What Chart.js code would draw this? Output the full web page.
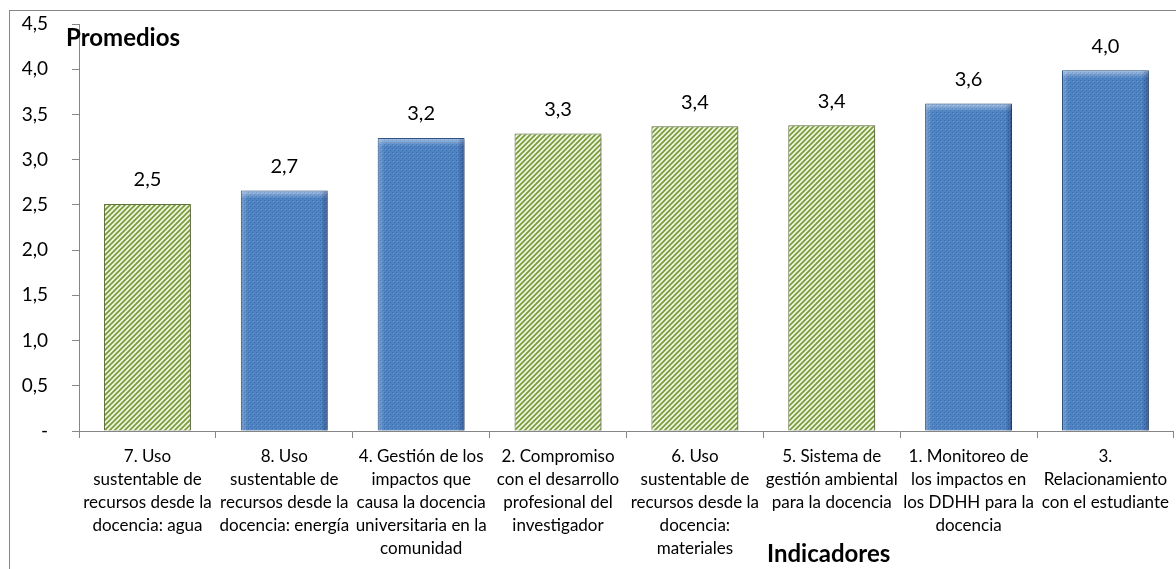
<!DOCTYPE html>
<html>
<head>
<meta charset="utf-8">
<script src="https://cdn.jsdelivr.net/npm/chart.js@4"></script>
<style>
  html, body { margin: 0; padding: 0; background: #fff; }
  #wrap { width: 1176px; height: 569px; position: relative; }
</style>
</head>
<body>
<div id="wrap"><canvas id="chart"></canvas></div>
<script>
// -------------------------------------------------------------------
// Data
// -------------------------------------------------------------------
const categories = [
  ["7. Uso", "sustentable de", "recursos desde la", "docencia: agua"],
  ["8. Uso", "sustentable de", "recursos desde la", "docencia: energía"],
  ["4. Gestión de los", "impactos que", "causa la docencia", "universitaria en la", "comunidad"],
  ["2. Compromiso", "con el desarrollo", "profesional del", "investigador"],
  ["6. Uso", "sustentable de", "recursos desde la", "docencia:", "materiales"],
  ["5. Sistema de", "gestión ambiental", "para la docencia"],
  ["1. Monitoreo de", "los impactos en", "los DDHH para la", "docencia"],
  ["3.", "Relacionamiento", "con el estudiante"]
];
const promedios = [2.51, 2.66, 3.24, 3.29, 3.37, 3.38, 3.62, 3.99];
const barStyle  = ["green", "blue", "blue", "green", "green", "green", "blue", "blue"];
const yTicks    = [0, 0.5, 1, 1.5, 2, 2.5, 3, 3.5, 4, 4.5];

const FONT = "Lato, 'Open Sans', sans-serif";

function fmtNum(v) {
  return v === 0 ? "-" : v.toFixed(1).replace(".", ",");
}

// -------------------------------------------------------------------
// Fill patterns
// -------------------------------------------------------------------
function hatchPattern() {
  const c = document.createElement("canvas");
  c.width = 5; c.height = 5;
  const g = c.getContext("2d");
  g.fillStyle = "#eef5dc";
  g.fillRect(0, 0, 5, 5);
  g.strokeStyle = "#7a9a3e";
  g.lineWidth = 1.7;
  g.beginPath();
  g.moveTo(-1, 6); g.lineTo(6, -1);
  g.moveTo(-4, 4); g.lineTo(4, -4);
  g.moveTo(1, 9); g.lineTo(9, 1);
  g.stroke();
  return g.createPattern(c, "repeat");
}

function dotPattern() {
  const c = document.createElement("canvas");
  c.width = 4; c.height = 4;
  const g = c.getContext("2d");
  g.fillStyle = "#4f84c4";
  g.fillRect(0, 0, 4, 4);
  g.fillStyle = "#3a69a6";
  g.fillRect(0, 0, 1, 1);
  g.fillRect(2, 2, 1, 1);
  g.fillStyle = "#6c9ad2";
  g.fillRect(1, 1, 1, 1);
  return g.createPattern(c, "repeat");
}

const fills   = { green: hatchPattern(), blue: dotPattern() };
const borders = { green: "#66763e", blue: "#2c5486" };

// -------------------------------------------------------------------
// Plugins
// -------------------------------------------------------------------
const decor = {
  id: "decor",
  beforeDatasetsDraw(chart) {
    const ctx = chart.ctx;
    ctx.save();
    ctx.shadowColor = "rgba(0,0,0,0.35)";
    ctx.shadowBlur = 4;
    ctx.shadowOffsetX = 2;
    ctx.shadowOffsetY = 2;
  },
  afterDatasetsDraw(chart) {
    const ctx = chart.ctx;
    ctx.restore();

    // bevel on blue bars
    const meta = chart.getDatasetMeta(0);
    meta.data.forEach((bar, i) => {
      if (barStyle[i] !== "blue") return;
      const l = bar.x - bar.width / 2, r = bar.x + bar.width / 2;
      const t = bar.y, b = bar.base;
      ctx.save();
      let gr = ctx.createLinearGradient(0, t, 0, t + 8);
      gr.addColorStop(0, "rgba(255,255,255,0.5)");
      gr.addColorStop(1, "rgba(255,255,255,0)");
      ctx.fillStyle = gr;
      ctx.fillRect(l + 1, t + 1, r - l - 2, 8);
      gr = ctx.createLinearGradient(l, 0, l + 7, 0);
      gr.addColorStop(0, "rgba(255,255,255,0.25)");
      gr.addColorStop(1, "rgba(255,255,255,0)");
      ctx.fillStyle = gr;
      ctx.fillRect(l + 1, t + 1, 7, b - t - 1);
      gr = ctx.createLinearGradient(r - 7, 0, r, 0);
      gr.addColorStop(0, "rgba(0,0,40,0)");
      gr.addColorStop(1, "rgba(0,0,40,0.3)");
      ctx.fillStyle = gr;
      ctx.fillRect(r - 8, t + 1, 7, b - t - 1);
      ctx.restore();
    });

    // value labels
    ctx.save();
    ctx.font = "20px " + FONT;
    ctx.fillStyle = "#000";
    ctx.textAlign = "center";
    ctx.textBaseline = "middle";
    meta.data.forEach((bar, i) => {
      ctx.fillText(promedios[i].toFixed(1).replace(".", ","), bar.x, bar.y - 24);
    });
    ctx.restore();
  },
  afterDraw(chart) {
    const ctx = chart.ctx;
    ctx.save();
    ctx.strokeStyle = "#868686";
    ctx.lineWidth = 1;
    ctx.strokeRect(9.5, 10.5, 1300, 700);
    ctx.fillStyle = "#000";
    ctx.font = "bold 24px " + FONT;
    ctx.textBaseline = "middle";
    ctx.textAlign = "left";
    ctx.fillText("Promedios", 66, 38);
    ctx.fillText("Indicadores", 767, 554);
    ctx.restore();
  }
};

// -------------------------------------------------------------------
// Chart
// -------------------------------------------------------------------
new Chart(document.getElementById("chart"), {
  type: "bar",
  data: {
    labels: categories,
    datasets: [{
      data: promedios,
      backgroundColor: barStyle.map(s => fills[s]),
      borderColor: barStyle.map(s => borders[s]),
      borderWidth: 1,
      barPercentage: 0.635,
      categoryPercentage: 1
    }]
  },
  options: {
    responsive: true,
    maintainAspectRatio: false,
    animation: false,
    layout: { padding: { left: 9, top: 24, right: 0, bottom: 0 } },
    plugins: {
      legend: { display: false },
      tooltip: { enabled: false }
    },
    scales: {
      x: {
        grid: { drawOnChartArea: false, drawTicks: true, tickLength: 7, color: "#868686", offset: true },
        border: { color: "#868686" },
        ticks: {
          color: "#000",
          font: { family: FONT, size: 17, lineHeight: 1.35 },
          padding: 7,
          maxRotation: 0,
          autoSkip: false
        },
        afterFit(scale) { scale.height = 138; }
      },
      y: {
        min: 0,
        max: 4.5,
        afterBuildTicks(scale) { scale.ticks = yTicks.map(v => ({ value: v })); },
        grid: { drawOnChartArea: false, drawTicks: true, tickLength: 7, color: "#868686" },
        border: { color: "#868686" },
        ticks: {
          color: "#000",
          font: { family: FONT, size: 19 },
          padding: 24,
          callback: v => fmtNum(v)
        },
        afterFit(scale) {
          scale.width = 70;
          scale.paddingTop = 0;
          scale.paddingBottom = 0;
        }
      }
    }
  },
  plugins: [decor]
});
</script>
</body>
</html>
